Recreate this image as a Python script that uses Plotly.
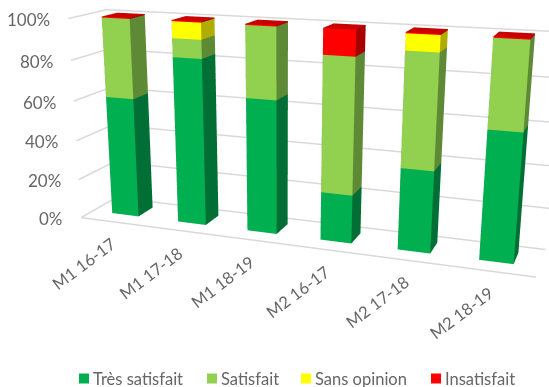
import plotly.graph_objects as go

categories = ["M1 16-17", "M1 17-18", "M1 18-19", "M2 16-17", "M2 17-18", "M2 18-19"]
tres_satisfait = [60.5, 82.5, 65.5, 23.5, 39.0, 60.0]
satisfait = [39.0, 9.0, 34.0, 64.5, 53.0, 39.5]
sans_opinion = [0.0, 8.0, 0.0, 0.0, 7.5, 0.0]
insatisfait = [0.5, 0.5, 0.5, 12.0, 0.5, 0.5]
y_ticks = [0, 20, 40, 60, 80, 100]

series = [
    ("Très satisfait", tres_satisfait, "#00B050", "#006F35", "#008A3F"),
    ("Satisfait", satisfait, "#92D050", "#5F8A35", "#76A93F"),
    ("Sans opinion", sans_opinion, "#FFFF00", "#B0AD00", "#CCCC00"),
    ("Insatisfait", insatisfait, "#FF0000", "#A80000", "#C80000"),
]

TEXT = "#666666"
GRID = "#D9D9D9"
FONT = "Lato"
# The figure is taller than the window to get a longer lens; the page offset
# below brings its middle into view.
PAGE_W, PAGE_H = 549, 387
FIG_H = 828
OFFSET = (FIG_H - PAGE_H) / 2
HALF_WIDTH, DEPTH_FRONT, DEPTH_BACK = 0.203, 0.334, 0.761


def box(x0, x1, y0, y1, z0, z1):
    xs = [x0, x1, x1, x0, x0, x1, x1, x0]
    ys = [y0, y0, y1, y1, y0, y0, y1, y1]
    zs = [z0, z0, z0, z0, z1, z1, z1, z1]
    return xs, ys, zs


# Triangles of a box, grouped by the face they belong to
FRONT = [(0, 1, 5), (0, 5, 4)]
RIGHT = [(1, 2, 6), (1, 6, 5)]
TOP = [(4, 5, 6), (4, 6, 7)]
HIDDEN = [(3, 2, 6), (3, 6, 7), (0, 3, 7), (0, 7, 4), (0, 1, 2), (0, 2, 3)]

fig = go.Figure()

# Walls and floor: each tick runs along the side wall, then the back wall
gx, gy, gz = [], [], []
for t in y_ticks:
    gx += [0, 0, 6, None]
    gy += [0, 1, 1, None]
    gz += [t, t, t, None]
gx += [0, 6]
gy += [0, 0]
gz += [0, 0]
fig.add_trace(go.Scatter3d(x=gx, y=gy, z=gz, mode="lines", line=dict(color=GRID, width=3),
                           hoverinfo="skip", showlegend=False))

# Stacked bars
base = [0.0] * len(categories)
for name, values, face, side, top in series:
    X, Y, Z, I, J, K, C = [], [], [], [], [], [], []
    for i, v in enumerate(values):
        if v <= 0:
            continue
        xs, ys, zs = box(i + 0.5 - HALF_WIDTH, i + 0.5 + HALF_WIDTH, DEPTH_FRONT, DEPTH_BACK,
                         base[i], base[i] + v)
        n = len(X)
        X += xs
        Y += ys
        Z += zs
        for tris, col in ((FRONT, face), (RIGHT, side), (TOP, top), (HIDDEN, side)):
            for a, b, c in tris:
                I.append(n + a)
                J.append(n + b)
                K.append(n + c)
                C.append(col)
        base[i] += v
    fig.add_trace(go.Mesh3d(x=X, y=Y, z=Z, i=I, j=J, k=K, facecolor=C, flatshading=True, name=name,
                            lighting=dict(ambient=1, diffuse=0, specular=0, roughness=1, fresnel=0),
                            hoverinfo="skip", showlegend=False))

# Value and category labels hang off the scene coordinates
scene_notes = [
    dict(x=0, y=0, z=t, text=f"{t}%", showarrow=False, xanchor="right", xshift=-16, yshift=-1,
         font=dict(family=FONT, size=17, color=TEXT))
    for t in y_ticks
]
scene_notes += [
    dict(x=i + 0.5, y=0, z=0, text=c, showarrow=False, textangle=-37, xshift=-30, yshift=-42,
         font=dict(family=FONT, size=16.5, color=TEXT))
    for i, c in enumerate(categories)
]


def paper_y(py):
    return 1 - (py + OFFSET) / FIG_H


# Legend along the foot of the chart
legend_x = [79, 207, 301, 431]
shapes, notes = [], []
for lx, (name, _, face, _, _) in zip(legend_x, series):
    shapes.append(dict(type="rect", xref="paper", yref="paper", x0=lx / PAGE_W, x1=(lx + 10) / PAGE_W,
                       y0=paper_y(383), y1=paper_y(373), fillcolor=face, line=dict(width=0)))
    notes.append(dict(xref="paper", yref="paper", x=(lx + 12) / PAGE_W, y=paper_y(378), text=name,
                      showarrow=False, xanchor="left", yanchor="middle",
                      font=dict(family=FONT, size=16.5, color=TEXT)))

hidden = dict(visible=False)
fig.update_layout(
    width=PAGE_W, height=FIG_H, margin=dict(l=0, r=0, t=0, b=0), paper_bgcolor="white",
    showlegend=False, shapes=shapes, annotations=notes,
    scene=dict(
        domain=dict(x=[0, 1], y=[0, 1]),
        xaxis=dict(range=[0, 6], **hidden),
        yaxis=dict(range=[0, 1], **hidden),
        zaxis=dict(range=[0, 100], **hidden),
        aspectmode="manual",
        aspectratio=dict(x=1, y=0.159, z=0.445),
        camera=dict(eye=dict(x=0.668, y=-1.912, z=0.503),
                    center=dict(x=-0.041, y=-0.061, z=-0.1215),
                    up=dict(x=-0.023, y=0.066, z=1),
                    projection=dict(type="perspective")),
        annotations=scene_notes,
    ),
)

page_offset = (
    "document.body.style.margin='0';document.body.style.overflow='hidden';"
    "document.documentElement.style.overflow='hidden';"
    "var gd=document.getElementById('{plot_id}');"
    f"gd.style.marginTop='{-OFFSET}px';"
)
fig.write_html("out.html", post_script=page_offset)
